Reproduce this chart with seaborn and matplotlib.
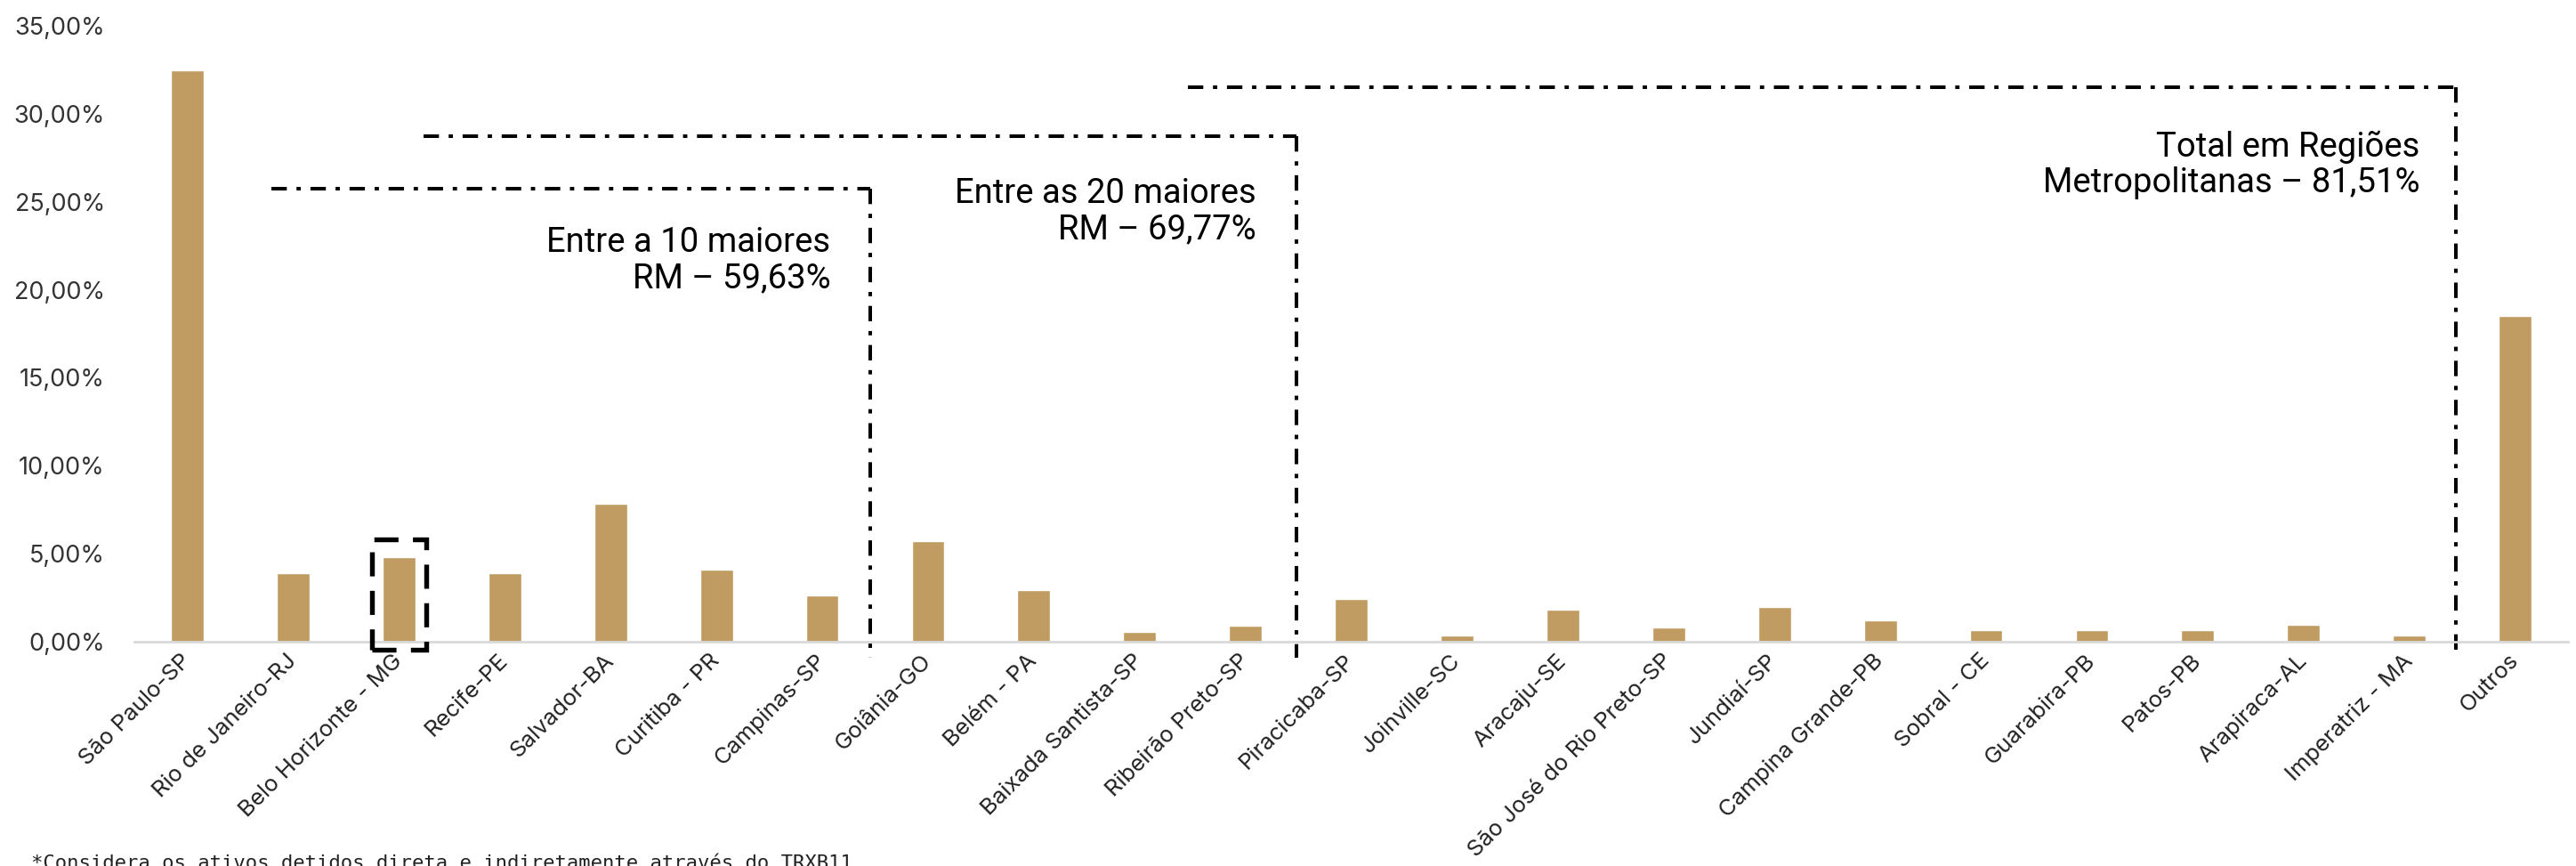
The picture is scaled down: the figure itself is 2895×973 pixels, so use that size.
import matplotlib
matplotlib.use("Agg")
import matplotlib.pyplot as plt
from matplotlib.patches import Rectangle
import pandas as pd
import seaborn as sns

# share of assets per metropolitan region (%)
regions = ["São Paulo-SP", "Rio de Janeiro-RJ", "Belo Horizonte - MG", "Recife-PE",
           "Salvador-BA", "Curitiba - PR", "Campinas-SP", "Goiânia-GO", "Belém - PA",
           "Baixada Santista-SP", "Ribeirão Preto-SP", "Piracicaba-SP", "Joinville-SC",
           "Aracaju-SE", "São José do Rio Preto-SP", "Jundiaí-SP", "Campina Grande-PB",
           "Sobral - CE", "Guarabira-PB", "Patos-PB", "Arapiraca-AL", "Imperatriz - MA",
           "Outros"]
shares = [32.5, 3.9, 4.8, 3.9, 7.85, 4.1, 2.6, 5.7, 2.95, 0.55, 0.92, 2.4, 0.32,
          1.8, 0.82, 1.97, 1.2, 0.65, 0.65, 0.65, 0.97, 0.34, 18.49]

y_ticks = [0, 5, 10, 15, 20, 25, 30, 35]
y_tick_labels = ["0,00%", "5,00%", "10,00%", "15,00%", "20,00%", "25,00%", "30,00%", "35,00%"]

box_labels = ["Entre a 10 maiores\nRM – 59,63%",
              "Entre as 20 maiores\nRM – 69,77%",
              "Total em Regiões\nMetropolitanas – 81,51%"]
footnote = "*Considera os ativos detidos direta e indiretamente através do TRXB11"

bar_color = "#C09B62"

sns.set_style("white")
plt.rcParams["font.family"] = ["Inter", "DejaVu Sans"]

fig = plt.figure(figsize=(28.95, 9.73), dpi=100)
ax = fig.add_axes([0.0522, 0.2592, 0.9447, 0.7108])

df = pd.DataFrame({"region": regions, "share": shares})
sns.barplot(data=df, x="region", y="share", color=bar_color, width=0.31,
            saturation=1, ax=ax)

ax.set_ylim(0, 35)
ax.set_xlim(-0.5, len(regions) - 0.5)
ax.set_yticks(y_ticks)
ax.set_yticklabels(y_tick_labels, fontsize=19.5, color="#333333")
ax.tick_params(axis="y", length=0, pad=24)
ax.tick_params(axis="x", length=0, pad=13)
ax.set_xticks(range(len(regions)))
ax.set_xticklabels(regions, rotation=45, ha="right", va="center",
                   rotation_mode="anchor", fontsize=18.5, color="#222222")
ax.set_xlabel("")
ax.set_ylabel("")
sns.despine(ax=ax, left=True)
ax.spines["bottom"].set_color("#D9D9D9")
ax.spines["bottom"].set_linewidth(2)

# dash-dot brackets
dash = (0, (4.3, 2.7, 1.2, 2.7))
lw = 2.9
brackets = [(0.79, 6.45, 25.75), (2.23, 10.48, 28.73), (9.46, 21.44, 31.52)]
for x0, x1, top in brackets:
    ax.plot([x0, x1], [top, top], color="black", lw=lw, linestyle=dash,
            clip_on=False, dash_capstyle="butt")
    ax.plot([x1, x1], [top, -0.9], color="black", lw=lw, linestyle=dash,
            clip_on=False, dash_capstyle="butt")

text_pos = [(6.08, 23.6), (10.10, 26.4), (21.10, 29.05)]
for (tx, ty), label in zip(text_pos, box_labels):
    ax.text(tx, ty, label, ha="right", va="top", multialignment="right",
            fontsize=27.5, family=["Roboto", "DejaVu Sans"], color="black",
            linespacing=1.1)

# highlight around Belo Horizonte
ax.add_patch(Rectangle((1.745, -0.45), 0.51, 6.26, fill=False, edgecolor="black",
                       lw=3.9, linestyle=(0, (5, 3)), clip_on=False, zorder=5))

fig.text(0.012, 1 - 960 / 973, footnote, ha="left", va="top", fontsize=16,
         family="DejaVu Sans Mono", color="#222222")

fig.savefig("out.png", dpi=100)
